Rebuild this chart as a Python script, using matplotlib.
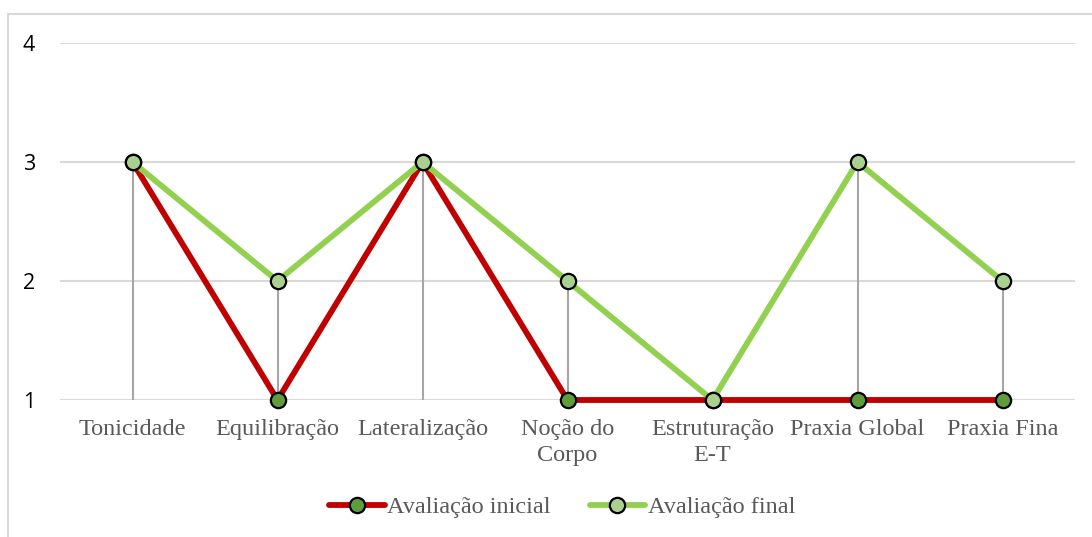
import matplotlib.pyplot as plt
from matplotlib.patches import Rectangle

categorias = ['Tonicidade', 'Equilibração', 'Lateralização', 'Noção do\nCorpo',
              'Estruturação\nE-T', 'Praxia Global', 'Praxia Fina']
inicial = [3, 1, 3, 1, 1, 1, 1]
final = [3, 2, 3, 2, 1, 3, 2]

fig = plt.figure(figsize=(10.92, 5.37), dpi=100)
ax = fig.add_axes([60 / 1092, 1 - 400 / 537, 1015 / 1092, 357 / 537])

# moldura da área do gráfico
fig.patches.append(Rectangle((8 / 1092, -0.1), 1.2, 1 - 14 / 537 + 0.1,
                             transform=fig.transFigure, fill=False,
                             edgecolor='#d9d9d9', linewidth=1.5))

x = list(range(len(categorias)))

# linhas verticais de cada ponto até ao eixo
topo = [max(a, b) for a, b in zip(inicial, final)]
ax.vlines(x, 1, topo, colors='#a6a6a6', linewidth=1.5, zorder=2)

ax.plot(x, inicial, color='#c00000', linewidth=4.2, marker='o', markersize=11,
        markerfacecolor='#5e9c3c', markeredgecolor='black', markeredgewidth=1.6,
        label='Avaliação inicial', zorder=3, solid_capstyle='round', clip_on=False)
ax.plot(x, final, color='#92d050', linewidth=4.2, marker='o', markersize=11,
        markerfacecolor='#a9d08e', markeredgecolor='black', markeredgewidth=1.6,
        label='Avaliação final', zorder=4, solid_capstyle='round', clip_on=False)

ax.set_xlim(-0.5, len(categorias) - 0.5)
ax.set_ylim(1, 4)
ax.set_yticks([1, 2, 3, 4])
ax.set_xticks(x)
ax.set_xticklabels(categorias, family='Liberation Serif', fontsize=17.5,
                   color='#595959', linespacing=1.3)
for lbl in ax.get_yticklabels():
    lbl.set_family('Open Sans')
    lbl.set_fontsize(15.5)
    lbl.set_color('black')
ax.tick_params(axis='both', length=0)
ax.tick_params(axis='y', pad=18)
ax.tick_params(axis='x', pad=14)
ax.yaxis.grid(True, color='#d9d9d9', linewidth=1.5)
ax.set_axisbelow(True)
for s in ax.spines.values():
    s.set_visible(False)
ax.patch.set_alpha(0)

leg = fig.legend(loc='center', bbox_to_anchor=(562 / 1092, 1 - 507 / 537),
                 ncol=2, frameon=False, handlelength=2.3, handletextpad=0.1,
                 columnspacing=1.6,
                 prop={'family': 'Liberation Serif', 'size': 17.5})
for t in leg.get_texts():
    t.set_color('#595959')

fig.savefig('out.png', dpi=100)
